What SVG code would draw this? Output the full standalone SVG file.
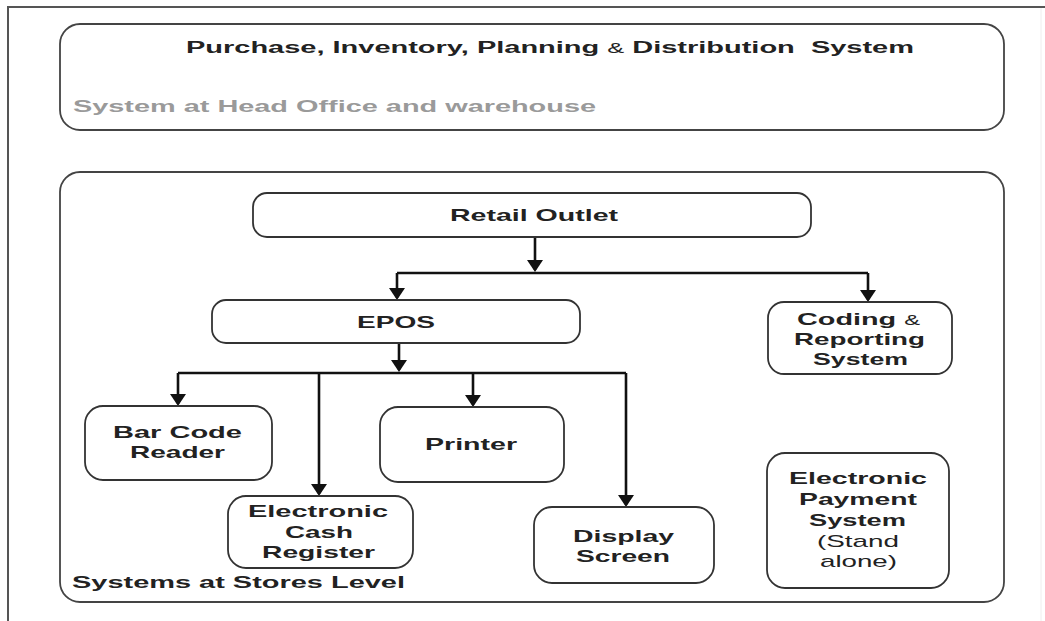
<svg xmlns="http://www.w3.org/2000/svg" width="1045" height="621" viewBox="0 0 1045 621">
<style>
  .frame{fill:none;stroke:#555;stroke-width:2}
  .panel{fill:#fff;stroke:#444;stroke-width:1.8}
  .box{fill:#fff;stroke:#333;stroke-width:1.8}
  .conn{fill:none;stroke:#111;stroke-width:2.6}
  text{font-family:"Liberation Sans",Arial,sans-serif;font-weight:bold;font-size:17px;fill:#222}
  .hdr{font-size:16px}
  .pre{white-space:pre}
  .sub{fill:#9a9a9a}
  .amp{font-weight:normal;font-size:14px}
  .norm{font-weight:normal}
</style>
<defs>
  <marker id="ah" viewBox="0 0 12 16" refX="10" refY="8" markerWidth="12" markerHeight="16" markerUnits="userSpaceOnUse" orient="auto">
    <path d="M0,0 L12,8 L0,16 z" fill="#111"/>
  </marker>
</defs>
<rect width="1045" height="621" fill="#fff"/>
<path class="frame" d="M8,621 V7 H1045"/>
<line x1="1041" y1="8" x2="1041" y2="621" stroke="#eee" stroke-width="1"/>

<g id="head-office">
  <rect class="panel" x="60" y="24" width="944" height="106" rx="20"/>
  <text class="hdr pre" x="186" y="53" textLength="728" lengthAdjust="spacingAndGlyphs">Purchase, Inventory, Planning <tspan class="amp">&amp;</tspan> Distribution  System</text>
  <text class="hdr sub" x="73" y="112" textLength="523" lengthAdjust="spacingAndGlyphs">System at Head Office and warehouse</text>
</g>

<g id="stores-level">
  <rect class="panel" x="60" y="172" width="944" height="430" rx="20"/>
  <text x="72" y="588" textLength="333" lengthAdjust="spacingAndGlyphs">Systems at Stores Level</text>
</g>

<g id="connectors">
  <path class="conn" d="M535,237 V270" marker-end="url(#ah)"/>
  <path class="conn" d="M397,273 H868"/>
  <path class="conn" d="M397,273 V298" marker-end="url(#ah)"/>
  <path class="conn" d="M868,273 V300" marker-end="url(#ah)"/>
  <path class="conn" d="M399,343 V370" marker-end="url(#ah)"/>
  <path class="conn" d="M178,373 H626"/>
  <path class="conn" d="M178,373 V404" marker-end="url(#ah)"/>
  <path class="conn" d="M319,373 V494" marker-end="url(#ah)"/>
  <path class="conn" d="M473,373 V405" marker-end="url(#ah)"/>
  <path class="conn" d="M626,373 V505" marker-end="url(#ah)"/>
</g>

<g id="retail-outlet">
  <rect class="box" x="253" y="193" width="558" height="44" rx="14"/>
  <text x="450" y="221" textLength="168" lengthAdjust="spacingAndGlyphs">Retail Outlet</text>
</g>

<g id="epos">
  <rect class="box" x="212" y="300" width="368" height="43" rx="14"/>
  <text x="357" y="328" textLength="78" lengthAdjust="spacingAndGlyphs">EPOS</text>
</g>

<g id="coding-reporting">
  <rect class="box" x="768" y="302" width="184" height="72" rx="16"/>
  <text x="797" y="325" textLength="123" lengthAdjust="spacingAndGlyphs">Coding <tspan class="amp">&amp;</tspan></text>
  <text x="794" y="345" textLength="131" lengthAdjust="spacingAndGlyphs">Reporting</text>
  <text x="813" y="365" textLength="95" lengthAdjust="spacingAndGlyphs">System</text>
</g>

<g id="bar-code-reader">
  <rect class="box" x="85" y="406" width="187" height="74" rx="18"/>
  <text x="113" y="438" textLength="129" lengthAdjust="spacingAndGlyphs">Bar Code</text>
  <text x="130" y="458" textLength="95" lengthAdjust="spacingAndGlyphs">Reader</text>
</g>

<g id="printer">
  <rect class="box" x="380" y="407" width="184" height="75" rx="18"/>
  <text x="425" y="450" textLength="92" lengthAdjust="spacingAndGlyphs">Printer</text>
</g>

<g id="electronic-cash-register">
  <rect class="box" x="228" y="496" width="185" height="72" rx="18"/>
  <text x="248" y="517" textLength="140" lengthAdjust="spacingAndGlyphs">Electronic</text>
  <text x="285" y="538" textLength="68" lengthAdjust="spacingAndGlyphs">Cash</text>
  <text x="262" y="558" textLength="113" lengthAdjust="spacingAndGlyphs">Register</text>
</g>

<g id="display-screen">
  <rect class="box" x="534" y="507" width="180" height="76" rx="18"/>
  <text x="573" y="542" textLength="101" lengthAdjust="spacingAndGlyphs">Display</text>
  <text x="576" y="562" textLength="94" lengthAdjust="spacingAndGlyphs">Screen</text>
</g>

<g id="electronic-payment-system">
  <rect class="box" x="767" y="453" width="182" height="135" rx="18"/>
  <text x="789" y="484" textLength="138" lengthAdjust="spacingAndGlyphs">Electronic</text>
  <text x="799" y="505" textLength="118" lengthAdjust="spacingAndGlyphs">Payment</text>
  <text x="809" y="526" textLength="97" lengthAdjust="spacingAndGlyphs">System</text>
  <text class="norm" x="817" y="547" textLength="82" lengthAdjust="spacingAndGlyphs">(Stand</text>
  <text class="norm" x="820" y="567" textLength="77" lengthAdjust="spacingAndGlyphs">alone)</text>
</g>
</svg>
